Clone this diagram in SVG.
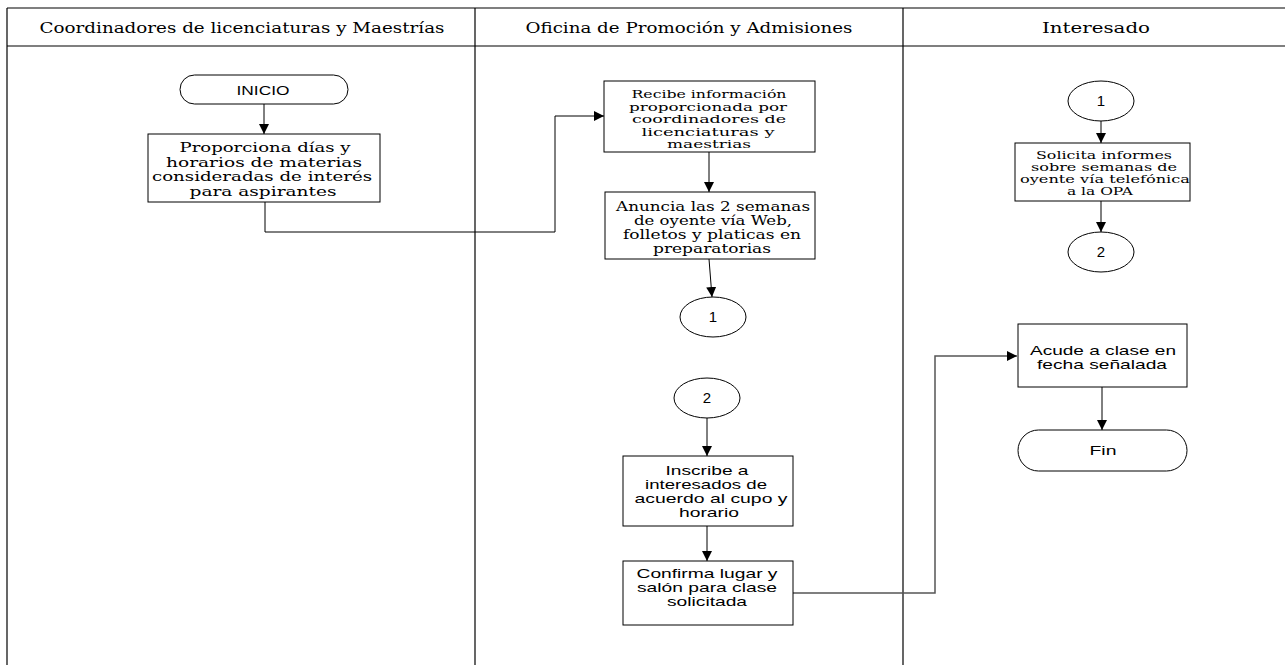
<svg xmlns="http://www.w3.org/2000/svg" width="1285" height="665" viewBox="0 0 1285 665">
<defs>
<style>
.lane{stroke:#000;stroke-width:1.2;fill:none}
.box{fill:#fff;stroke:#000;stroke-width:1}
.hdr{font-family:"DejaVu Serif","Liberation Serif",serif;font-size:14px;fill:#000;text-anchor:middle}
.sr{font-family:"DejaVu Serif","Liberation Serif",serif;font-size:12.5px;fill:#000;text-anchor:middle}
.sr2{font-family:"DejaVu Serif","Liberation Serif",serif;font-size:11.5px;fill:#000;text-anchor:middle}
.sn{font-family:"Liberation Sans",Arial,sans-serif;font-size:13.5px;fill:#000;text-anchor:middle}
.num{font-family:"Liberation Sans",Arial,sans-serif;font-size:15px;fill:#000;text-anchor:middle}
.con{stroke:#000;stroke-width:1;fill:none;marker-end:url(#ah)}
.con2{stroke:#555;stroke-width:1.5;fill:none;marker-end:url(#ah)}
</style>
<marker id="ah" markerUnits="userSpaceOnUse" markerWidth="12" markerHeight="12" refX="10" refY="5" orient="auto">
<path d="M0,0 L10,5 L0,10 Z" fill="#000"/>
</marker>
</defs>
<rect width="1285" height="665" fill="#fff"/>
<g id="lanes">
<line class="lane" x1="7" y1="8" x2="1285" y2="8"/>
<line class="lane" x1="7" y1="46" x2="1285" y2="46"/>
<line class="lane" x1="7" y1="8" x2="7" y2="665"/>
<line class="lane" x1="475" y1="8" x2="475" y2="665"/>
<line class="lane" x1="903" y1="8" x2="903" y2="665"/>
<text class="hdr" x="242" y="33" textLength="405" lengthAdjust="spacingAndGlyphs">Coordinadores de licenciaturas y Maestrías</text>
<text class="hdr" x="689" y="33" textLength="327" lengthAdjust="spacingAndGlyphs">Oficina de Promoción y Admisiones</text>
<text class="hdr" x="1096" y="33" textLength="108" lengthAdjust="spacingAndGlyphs">Interesado</text>
</g>
<g id="connectors">
<line class="con" x1="264" y1="104" x2="264" y2="134"/>
<polyline class="con" points="265,202 265,232 555,232 555,116 604,116"/>
<line class="con" x1="709" y1="152" x2="709" y2="192"/>
<line class="con" x1="709" y1="259" x2="712" y2="297"/>
<line class="con" x1="707" y1="418" x2="707" y2="456"/>
<line class="con" x1="707" y1="526" x2="707" y2="561"/>
<polyline class="con2" points="792,593 935,593 935,356 1017,356"/>
<line class="con" x1="1101" y1="121" x2="1101" y2="143"/>
<line class="con" x1="1101" y1="201" x2="1101" y2="232"/>
<line class="con" x1="1102" y1="387" x2="1102" y2="430"/>
</g>
<g id="inicio">
<rect class="box" x="180" y="75" width="168" height="29" rx="14.5"/>
<text class="sn" x="263" y="95" textLength="53" lengthAdjust="spacingAndGlyphs">INICIO</text>
</g>
<g id="proporciona">
<rect class="box" x="148" y="134" width="232" height="68"/>
<text class="sr" x="265" y="152" textLength="171" lengthAdjust="spacingAndGlyphs">Proporciona días y</text>
<text class="sr" x="264" y="166.5" textLength="196" lengthAdjust="spacingAndGlyphs">horarios de materias</text>
<text class="sr" x="262" y="181" textLength="220" lengthAdjust="spacingAndGlyphs">consideradas de interés</text>
<text class="sr" x="263" y="195.5" textLength="147" lengthAdjust="spacingAndGlyphs">para aspirantes</text>
</g>
<g id="recibe">
<rect class="box" x="604" y="81" width="211" height="71"/>
<text class="sr2" x="709" y="98" textLength="155" lengthAdjust="spacingAndGlyphs">Recibe información</text>
<text class="sr2" x="708" y="110.5" textLength="158" lengthAdjust="spacingAndGlyphs">proporcionada por</text>
<text class="sr2" x="709" y="123" textLength="154" lengthAdjust="spacingAndGlyphs">coordinadores de</text>
<text class="sr2" x="708" y="135.5" textLength="133" lengthAdjust="spacingAndGlyphs">licenciaturas y</text>
<text class="sr2" x="709" y="148" textLength="84" lengthAdjust="spacingAndGlyphs">maestrias</text>
</g>
<g id="anuncia">
<rect class="box" x="605" y="192" width="210" height="67"/>
<text class="sr" x="713" y="211" textLength="194" lengthAdjust="spacingAndGlyphs">Anuncia las 2 semanas</text>
<text class="sr" x="713" y="225" textLength="158" lengthAdjust="spacingAndGlyphs">de oyente vía Web,</text>
<text class="sr" x="712" y="239" textLength="178" lengthAdjust="spacingAndGlyphs">folletos y platicas en</text>
<text class="sr" x="712" y="253" textLength="118" lengthAdjust="spacingAndGlyphs">preparatorias</text>
</g>
<g id="con1a">
<ellipse class="box" cx="713" cy="317" rx="33" ry="20"/>
<text class="num" x="713" y="322">1</text>
</g>
<g id="con2a">
<ellipse class="box" cx="707" cy="398" rx="33" ry="20"/>
<text class="num" x="707" y="403">2</text>
</g>
<g id="inscribe">
<rect class="box" x="623" y="456" width="170" height="70"/>
<text class="sn" x="707" y="475" textLength="83" lengthAdjust="spacingAndGlyphs">Inscribe a</text>
<text class="sn" x="706" y="489" textLength="122" lengthAdjust="spacingAndGlyphs">interesados de</text>
<text class="sn" x="711" y="503" textLength="153" lengthAdjust="spacingAndGlyphs">acuerdo al cupo y</text>
<text class="sn" x="709" y="517" textLength="60" lengthAdjust="spacingAndGlyphs">horario</text>
</g>
<g id="confirma">
<rect class="box" x="623" y="561" width="170" height="64"/>
<text class="sn" x="707" y="578" textLength="141" lengthAdjust="spacingAndGlyphs">Confirma lugar y</text>
<text class="sn" x="707" y="592" textLength="140" lengthAdjust="spacingAndGlyphs">salón para clase</text>
<text class="sn" x="707" y="606" textLength="80" lengthAdjust="spacingAndGlyphs">solicitada</text>
</g>
<g id="con1b">
<ellipse class="box" cx="1101" cy="101" rx="33" ry="20"/>
<text class="num" x="1101" y="106">1</text>
</g>
<g id="solicita">
<rect class="box" x="1015" y="143" width="175" height="58"/>
<text class="sr2" x="1104" y="159" textLength="136" lengthAdjust="spacingAndGlyphs">Solicita informes</text>
<text class="sr2" x="1104" y="171" textLength="146" lengthAdjust="spacingAndGlyphs">sobre semanas de</text>
<text class="sr2" x="1105" y="183" textLength="170" lengthAdjust="spacingAndGlyphs">oyente vía telefónica</text>
<text class="sr2" x="1100" y="195" textLength="66" lengthAdjust="spacingAndGlyphs">a la OPA</text>
</g>
<g id="con2b">
<ellipse class="box" cx="1101" cy="252" rx="33" ry="20"/>
<text class="num" x="1101" y="257">2</text>
</g>
<g id="acude">
<rect class="box" x="1018" y="324" width="169" height="63"/>
<text class="sn" x="1103" y="355" textLength="146" lengthAdjust="spacingAndGlyphs">Acude a clase en</text>
<text class="sn" x="1102" y="369" textLength="130" lengthAdjust="spacingAndGlyphs">fecha señalada</text>
</g>
<g id="fin">
<rect class="box" x="1018" y="430" width="169" height="41" rx="20.5"/>
<text class="sn" x="1103" y="455" textLength="27" lengthAdjust="spacingAndGlyphs">Fin</text>
</g>
</svg>
